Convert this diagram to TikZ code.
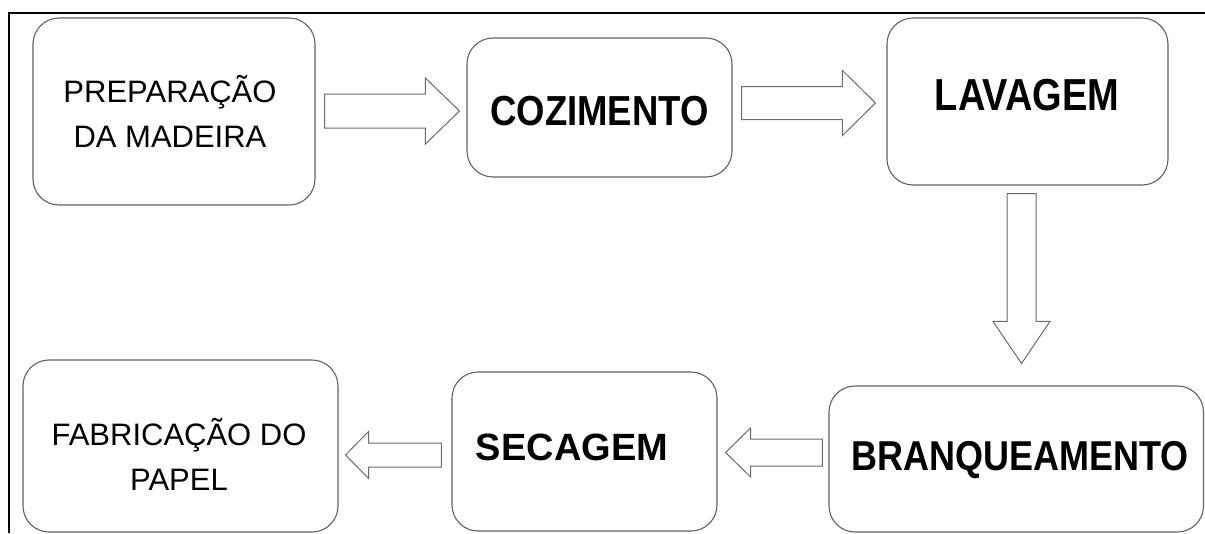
\documentclass[tikz,border=0pt]{standalone}
\usepackage{fontspec}
\usepackage{graphicx}
\setmainfont{Liberation Sans}
\usetikzlibrary{calc}

\definecolor{edgegray}{gray}{0.38}
\definecolor{flowgray}{gray}{0.42}

% Hollow block arrow from #1 (tail) to #2 (tip):
% #3 half shaft width, #4 half head width, #5 head length
\newcommand\blockarrow[5]{%
  \coordinate (ahb) at ($(#2)!#5!(#1)$);
  \draw[flow] ($(#1)!#3!90:(#2)$) -- ($(ahb)!#3!90:(#2)$) -- ($(ahb)!#4!90:(#2)$)
    -- (#2) -- ($(ahb)!#4!-90:(#2)$) -- ($(ahb)!#3!-90:(#2)$) -- ($(#1)!#3!-90:(#2)$) -- cycle;
}

\tikzset{
  stage/.style={draw=edgegray, line width=1.1pt, rounded corners=26pt, inner sep=0pt, fill=white},
  flow/.style={draw=flowgray, line width=1pt, fill=white, line join=miter},
  plain/.style={inner sep=0pt, anchor=base},
  reg/.style={plain, font=\fontsize{31}{45}\selectfont},
  bold/.style={plain, font=\fontsize{#1}{44}\selectfont\bfseries},
}

\begin{document}
\begin{tikzpicture}[x=1pt, y=-1pt]
\useasboundingbox (0,0) rectangle (1205,533);

% frame edges
\draw[line width=1.6pt, black] (9,533) -- (9,13) -- (1205,13);

% process stages
\node[stage, minimum width=282pt, minimum height=187pt] (b1) at (174,111.5) {};
\node[stage, minimum width=265pt, minimum height=139pt] (b2) at (599.5,107.5) {};
\node[stage, minimum width=281pt, minimum height=167pt] (b3) at (1027.5,101.5) {};
\node[stage, minimum width=374.5pt, minimum height=146pt] (b4) at (1016.25,459) {};
\node[stage, minimum width=265pt, minimum height=159pt] (b5) at (584.5,451.5) {};
\node[stage, minimum width=315pt, minimum height=172pt] (b6) at (180.5,446) {};

% stage texts
\node[reg] (t1) at ($(b1.center)+(-4,35.5)$)
  {\parbox[b]{300pt}{\centering PREPARAÇÃO\\DA MADEIRA}};
\node[bold=36.5] (t2) at ($(b2.center)+(0,17.5)$) {\scalebox{1}[1.15]{COZIMENTO}};
\node[bold=38] (t3) at ($(b3.center)+(-0.5,8.5)$) {\scalebox{1}[1.18]{LAVAGEM}};
\node[bold=36] (t4) at ($(b4.center)+(3.75,11)$) {\scalebox{1}[1.16]{BRANQUEAMENTO}};
\node[bold=38] (t5) at ($(b5.center)+(-12.5,8.5)$) {SECAGEM};
\node[reg] (t6) at ($(b6.center)+(-1.5,44)$)
  {\parbox[b]{330pt}{\centering FABRICAÇÃO DO\\PAPEL}};

% flow arrows
\coordinate (a1s) at ($(b1.east)+(9,-0.5)$);
\coordinate (a1e) at ($(b2.west)+(-7,3.5)$);
\blockarrow{a1s}{a1e}{17pt}{33pt}{34pt}

\coordinate (a2s) at ($(b2.east)+(9,-4.5)$);
\coordinate (a2e) at ($(b3.west)+(-11,1.5)$);
\blockarrow{a2s}{a2e}{16.5pt}{32.5pt}{33pt}

\coordinate (a3s) at ($(b3.south)+(-6,8)$);
\coordinate (a3e) at ($(b4.north)+(5.25,-22)$);
\blockarrow{a3s}{a3e}{14.5pt}{28.5pt}{42pt}

\coordinate (a4s) at ($(b4.west)+(-6,-6.5)$);
\coordinate (a4e) at ($(b5.east)+(8,1)$);
\blockarrow{a4s}{a4e}{13.5pt}{24.5pt}{25pt}

\coordinate (a5s) at ($(b5.west)+(-10,3.5)$);
\coordinate (a5e) at ($(b6.east)+(7,9)$);
\blockarrow{a5s}{a5e}{12pt}{23.5pt}{23pt}
\end{tikzpicture}
\end{document}
